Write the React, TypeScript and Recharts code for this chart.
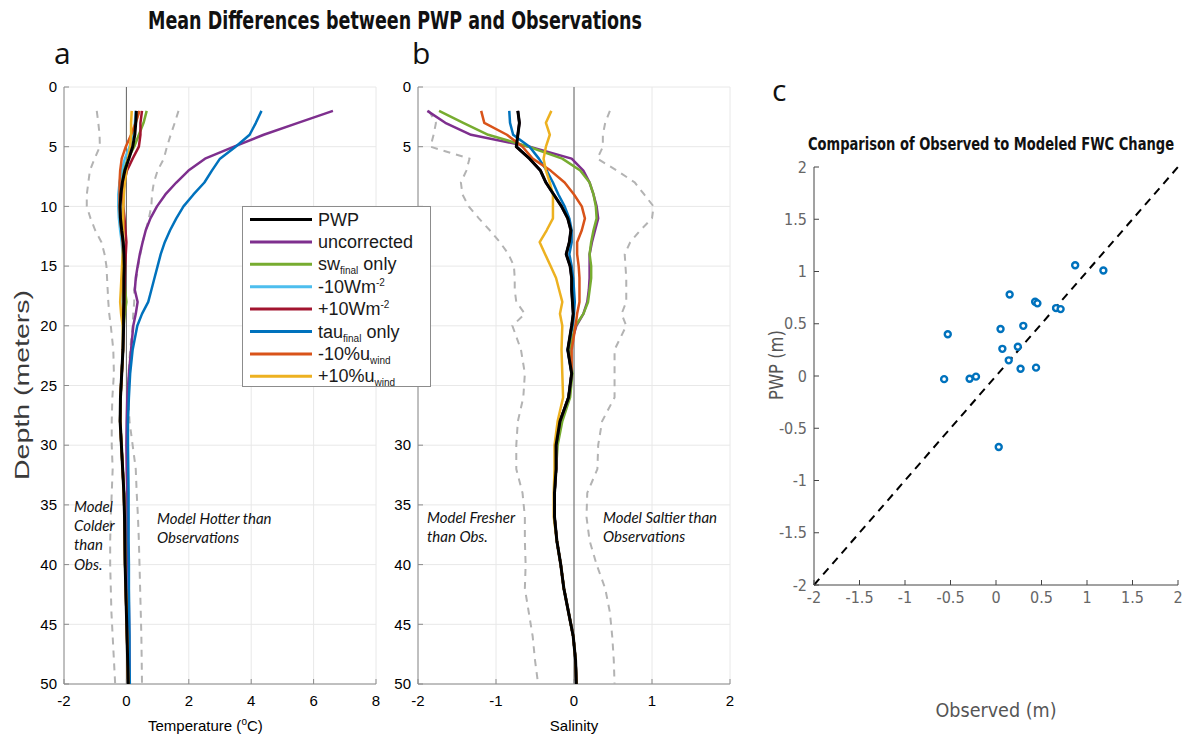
import React from "react";
import {
  ScatterChart,
  Scatter,
  XAxis,
  YAxis,
  CartesianGrid,
  ReferenceLine,
} from "recharts";

// depth levels (m) shared by all profiles in panels a and b
const depths = [
  2, 3, 4, 5, 6, 7, 8, 9, 10, 11, 12, 13, 14, 15, 16, 17, 18, 19, 20, 22, 24,
  26, 28, 30, 32, 34, 36, 38, 40, 42, 44, 46, 48, 50,
];
const depthTicks = [0, 5, 10, 15, 20, 25, 30, 35, 40, 45, 50];

// panel a: temperature difference (degC)
const tempPWP = [
  0.32, 0.3, 0.27, 0.2, 0.08, -0.05, -0.13, -0.18, -0.2, -0.19, -0.15, -0.1,
  -0.08, -0.07, -0.08, -0.08, -0.08, -0.09, -0.09, -0.11, -0.15, -0.19, -0.2,
  -0.16, -0.12, -0.08, -0.06, -0.05, -0.04, -0.02, 0, 0.02, 0.04, 0.06,
];
const tempUncorrected = [
  6.62, 5.5, 4.4, 3.45, 2.52, 1.99, 1.6, 1.25, 0.98, 0.77, 0.62, 0.52, 0.43,
  0.36, 0.3, 0.27, 0.36, 0.3, 0.22, 0.15, 0.08, 0.03, 0.01, 0, 0.01, 0.03,
  0.05, 0.05, 0.06, 0.07, 0.08, 0.09, 0.1, 0.1,
];
const tempTau = [
  4.33, 4.15, 3.95, 3.5, 3.0, 2.74, 2.5, 2.15, 1.83, 1.6, 1.4, 1.23, 1.1, 1.0,
  0.9, 0.8, 0.7, 0.5, 0.35, 0.2, 0.12, 0.08, 0.05, 0.05, 0.06, 0.07, 0.07,
  0.07, 0.08, 0.08, 0.09, 0.1, 0.1, 0.11,
];
const tempSw = [
  0.65, 0.55, 0.4, 0.25, 0.05, -0.1, -0.16, -0.2, -0.24, -0.22, -0.17, -0.12,
  -0.09, -0.07, -0.06, -0.04, 0.0, -0.05, -0.09,
  ...tempPWP.slice(19),
];
const tempCool = [
  0.3, 0.27, 0.2, 0.1, -0.05, -0.15, -0.22, -0.26, -0.26, -0.24, -0.2, -0.15,
  -0.12, -0.12, -0.13, -0.13, -0.12, -0.12, -0.11,
  ...tempPWP.slice(19),
];
const tempWarm = [
  0.5, 0.45, 0.45, 0.4, 0.2, 0.02, -0.07, -0.1, -0.1, -0.06, -0.03, 0, -0.02,
  -0.04, -0.05, -0.06, -0.07, -0.08, -0.09,
  ...tempPWP.slice(19),
];
const tempWindLow = [
  0.42, 0.3, 0.15, -0.02, -0.15, -0.2, -0.22, -0.22, -0.22, -0.2, -0.16, -0.12,
  -0.1, -0.09, -0.09, -0.09, -0.09, -0.1, -0.1,
  ...tempPWP.slice(19),
];
const tempWindHigh = [
  0.17, 0.15, 0.15, 0.12, 0.05, 0, -0.05, -0.08, -0.1, -0.1, -0.1, -0.1, -0.12,
  -0.14, -0.16, -0.18, -0.2, -0.17, -0.12,
  ...tempPWP.slice(19),
];
const tempLow = [
  -0.95, -0.9, -0.86, -0.85, -1.02, -1.17, -1.22, -1.27, -1.27, -1.15, -1.0,
  -0.8, -0.7, -0.64, -0.62, -0.6, -0.58, -0.55, -0.5, -0.42, -0.4, -0.45,
  -0.47, -0.47, -0.44, -0.47, -0.5, -0.52, -0.52, -0.5, -0.48, -0.44, -0.4,
  -0.36,
];
const tempHigh = [
  1.67, 1.55, 1.42, 1.3, 1.2, 1.0, 0.88, 0.82, 0.8, 0.72, 0.62, 0.52, 0.45,
  0.38, 0.32, 0.25, 0.25, 0.22, 0.2, 0.12, 0.07, 0.06, 0.1, 0.2, 0.3, 0.33,
  0.37, 0.4, 0.42, 0.44, 0.46, 0.48, 0.49, 0.5,
];

// panel b: salinity difference
const salPWP = [
  -0.72, -0.7, -0.72, -0.74, -0.57, -0.43, -0.36, -0.26, -0.16, -0.08, -0.04,
  -0.06, -0.1, -0.05, -0.03, -0.03, -0.02, -0.01, -0.03, -0.08, -0.03, -0.07,
  -0.18, -0.23, -0.23, -0.25, -0.25, -0.22, -0.17, -0.13, -0.07, -0.01, 0.02,
  0.03,
];
const salUncorrected = [
  -1.88, -1.65, -1.32, -0.57, -0.03, 0.12, 0.2, 0.25, 0.29, 0.31, 0.27, 0.23,
  0.2, 0.2, 0.2, 0.19, 0.17, 0.12, 0.03, -0.06,
  ...salPWP.slice(20),
];
const salSw = [
  -1.73, -1.42, -1.1, -0.58, -0.15, 0.08, 0.2, 0.25, 0.28, 0.29, 0.25, 0.22,
  0.2, 0.22, 0.22, 0.2, 0.18, 0.12, 0.02, -0.06, -0.02, -0.05, -0.15, -0.21,
  ...salPWP.slice(24),
];
const salCool = [...salPWP];
const salWarm = [...salPWP];
const salTau = [
  -0.83, -0.82, -0.78, -0.57, -0.45, -0.35, -0.27, -0.2, -0.12, -0.06, -0.03,
  -0.03, -0.06, -0.03, -0.01, 0, 0.01, 0, -0.02,
  ...salPWP.slice(19),
];
const salWindLow = [
  -1.19, -1.15, -0.86, -0.66, -0.53, -0.3, -0.12, 0, 0.1, 0.14, 0.1, 0.04, 0.04,
  0.06, 0.07, 0.07, 0.07, 0.04, 0.02, -0.03,
  ...salPWP.slice(20),
];
const salWindHigh = [
  -0.29, -0.36, -0.31, -0.36, -0.39, -0.36, -0.31, -0.27, -0.27, -0.27, -0.35,
  -0.44, -0.37, -0.3, -0.23, -0.19, -0.15, -0.18, -0.15, -0.16, -0.15, -0.14,
  -0.21, -0.25, -0.25, -0.26, -0.26,
  ...salPWP.slice(27),
];
const salLow = [
  -1.86, -1.77, -1.8, -1.84, -1.34, -1.38, -1.45, -1.43, -1.35, -1.22, -1.08,
  -0.95, -0.84, -0.77, -0.76, -0.76, -0.74, -0.63, -0.79, -0.68, -0.63, -0.65,
  -0.72, -0.74, -0.74, -0.66, -0.63, -0.63, -0.62, -0.63, -0.58, -0.53, -0.5,
  -0.46,
];
const salHigh = [
  0.46, 0.4, 0.37, 0.37, 0.3, 0.55, 0.78, 0.9, 1.02, 1.0, 0.85, 0.72, 0.65,
  0.66, 0.67, 0.67, 0.67, 0.61, 0.67, 0.52, 0.52, 0.52, 0.36, 0.31, 0.3, 0.17,
  0.16, 0.2, 0.29, 0.4, 0.46, 0.49, 0.51, 0.52,
];

// series order: PWP, uncorrected, sw, -10W, +10W, tau, -10%u, +10%u
const seriesNames = ["PWP", "uncorrected", "sw", "-10Wm", "+10Wm", "tau", "-10%u", "+10%u"];
const seriesScripts = ["", "", "final", "-2", "-2", "final", "wind", "wind"];
const seriesScriptKinds = ["", "", "sub", "sup", "sup", "sub", "sub", "sub"];
const seriesTails = ["", "", " only", "", "", " only", "", ""];
const seriesColors = ["#000000", "#7E2F8E", "#77AC30", "#4DBEEE", "#A2142F", "#0072BD", "#D95319", "#EDB120"];
const tempSeries = [tempPWP, tempUncorrected, tempSw, tempCool, tempWarm, tempTau, tempWindLow, tempWindHigh];
const salSeries = [salPWP, salUncorrected, salSw, salCool, salWarm, salTau, salWindLow, salWindHigh];

// panel c: freshwater content change (m)
const observedFwc = [0.87, 0.15, 0.43, 0.455, 0.66, 0.71, -0.53, 0.05, 0.3, 0.07, 0.24, 0.14, 0.27, 0.44, -0.57, -0.29, -0.22, 0.03, 1.18];
const pwpFwc = [1.06, 0.78, 0.71, 0.695, 0.65, 0.64, 0.4, 0.45, 0.48, 0.26, 0.28, 0.15, 0.07, 0.08, -0.03, -0.026, -0.006, -0.68, 1.01];
const fwcTicks = [-2, -1.5, -1, -0.5, 0, 0.5, 1, 1.5, 2];

const FONT = "'Liberation Sans', Arial, Helvetica, sans-serif";
const NARROW = "'Liberation Sans Narrow', 'Arial Narrow', 'DejaVu Sans Condensed', sans-serif";
const ITALIC = "Lato, 'Open Sans', sans-serif";

const profile = (values: number[]) => depths.map((d, i) => ({ x: values[i], y: d }));
const noDot = () => <g />;

// depth tick label; labels listed in `hidden` sit under the legend box
function DepthTick(hidden: number[]) {
  return (props: any) => {
    const { x, y, payload } = props;
    if (hidden.includes(payload.value)) return <g />;
    return (
      <text x={x} y={y} dy="0.35em" textAnchor="end" fill="#000" fontSize={15} fontFamily={FONT}>
        {payload.value}
      </text>
    );
  };
}

function ProfilePanel({ left, xDomain, xTicks, series, low, high, hiddenTicks }: {
  left: number;
  xDomain: [number, number];
  xTicks: number[];
  series: number[][];
  low: number[];
  high: number[];
  hiddenTicks: number[];
}) {
  const order = [1, 2, 3, 4, 5, 6, 7, 0];
  return (
    <div style={{ position: "absolute", left, top: 0 }}>
      <ScatterChart width={389} height={740} margin={{ top: 87, right: 13, bottom: 0, left: 0 }}>
        <CartesianGrid xAxisId="b" yAxisId="l" stroke="#e8e8e8" />
        <XAxis xAxisId="b" type="number" dataKey="x" domain={xDomain} ticks={xTicks} height={56}
          stroke="#8c8c8c" tickSize={-5} tickMargin={16} allowDataOverflow
          tick={{ fill: "#000", fontSize: 15, fontFamily: FONT }} />
        <XAxis xAxisId="t" orientation="top" type="number" dataKey="x" domain={xDomain} ticks={xTicks}
          height={0} stroke="#8c8c8c" tickSize={-5} tick={false} allowDataOverflow />
        <YAxis yAxisId="l" type="number" dataKey="y" domain={[0, 50]} ticks={depthTicks} reversed width={64}
          stroke="#8c8c8c" tickSize={-5} tickMargin={12} allowDataOverflow
          tick={DepthTick(hiddenTicks)} />
        <YAxis yAxisId="r" orientation="right" type="number" dataKey="y" domain={[0, 50]} ticks={depthTicks}
          reversed width={0} stroke="#8c8c8c" tickSize={-5} tick={false} allowDataOverflow />
        <ReferenceLine xAxisId="b" yAxisId="l" x={0} stroke="#555" strokeWidth={0.9} />
        {[low, high].map((vals, i) => (
          <Scatter key={"d" + i} xAxisId="b" yAxisId="l" data={profile(vals)} fill="#b3b3b3"
            line={{ stroke: "#b3b3b3", strokeWidth: 2, strokeDasharray: "7 6" }}
            shape={noDot} isAnimationActive={false} />
        ))}
        {order.map((k) => (
          <Scatter key={seriesNames[k]} xAxisId="b" yAxisId="l" data={profile(series[k])} fill={seriesColors[k]}
            line={{ stroke: seriesColors[k], strokeWidth: k === 0 ? 3 : 2.5, strokeLinejoin: "round" }}
            shape={noDot} isAnimationActive={false} />
        ))}
      </ScatterChart>
    </div>
  );
}

function Ring(props: any) {
  const { cx, cy } = props;
  return <circle cx={cx} cy={cy} r={3} fill="#fff" stroke="#0072BD" strokeWidth={2.4} />;
}

function FwcPanel() {
  const points = observedFwc.map((x, i) => ({ x, y: pwpFwc[i] }));
  return (
    <div style={{ position: "absolute", left: 754, top: 0 }}>
      <ScatterChart width={430} height={740} margin={{ top: 167, right: 6, bottom: 0, left: 0 }}>
        <XAxis xAxisId="b" type="number" dataKey="x" domain={[-2, 2]} ticks={fwcTicks} height={155}
          stroke="#444" tickSize={-5} tickMargin={12} allowDataOverflow
          tick={{ fill: "#666", fontSize: 16, fontFamily: NARROW }} />
        <XAxis xAxisId="t" orientation="top" type="number" dataKey="x" domain={[-2, 2]} ticks={fwcTicks}
          height={0} stroke="#444" tickSize={-5} tick={false} allowDataOverflow />
        <YAxis yAxisId="l" type="number" dataKey="y" domain={[-2, 2]} ticks={fwcTicks} width={60}
          stroke="#444" tickSize={-5} tickMargin={12} allowDataOverflow
          tick={{ fill: "#666", fontSize: 16, fontFamily: NARROW }} />
        <YAxis yAxisId="r" orientation="right" type="number" dataKey="y" domain={[-2, 2]} ticks={fwcTicks}
          width={0} stroke="#444" tickSize={-5} tick={false} allowDataOverflow />
        <ReferenceLine xAxisId="b" yAxisId="l" segment={[{ x: -2, y: -2 }, { x: 2, y: 2 }]}
          stroke="#000" strokeWidth={2} strokeDasharray="8 6" />
        <Scatter xAxisId="b" yAxisId="l" data={points} fill="#0072BD" shape={Ring} isAnimationActive={false} />
      </ScatterChart>
    </div>
  );
}

function LegendBox() {
  const x0 = 242;
  const y0 = 206;
  return (
    <g fontFamily={FONT} fontSize={18} fill="#1a1a1a">
      <rect x={x0 + 0.5} y={y0 + 0.5} width={188} height={180} fill="#fff" stroke="#8c8c8c" strokeWidth={1} />
      {seriesNames.map((name, i) => {
        const cy = y0 + 13.5 + i * 22.4;
        const kind = seriesScriptKinds[i];
        return (
          <g key={name}>
            <line x1={x0 + 8} x2={x0 + 70} y1={cy} y2={cy} stroke={seriesColors[i]} strokeWidth={3} />
            <text x={x0 + 76} y={cy + 6}>
              {name}
              {kind === "sub" && (
                <tspan fontSize={10} dy={4}>{seriesScripts[i]}</tspan>
              )}
              {kind === "sup" && (
                <tspan fontSize={10} dy={-7}>{seriesScripts[i]}</tspan>
              )}
              {kind !== "" && seriesTails[i] !== "" && (
                <tspan dy={kind === "sub" ? -4 : 7}>{seriesTails[i]}</tspan>
              )}
            </text>
          </g>
        );
      })}
    </g>
  );
}

function Labels() {
  const it = { fontFamily: ITALIC, fontStyle: "italic", fontSize: 15, fill: "#111" } as const;
  return (
    <svg width={1184} height={740} style={{ position: "absolute", left: 0, top: 0, pointerEvents: "none" }}>
      <LegendBox />
      <text x={148} y={29} fontFamily={NARROW} fontWeight="bold" fontSize={25} textLength={494}
        lengthAdjust="spacingAndGlyphs" fill="#111">Mean Differences between PWP and Observations</text>
      <text x={54} y={64} fontFamily="'Open Sans', sans-serif" fontSize={30} fill="#111">a</text>
      <text x={412} y={64} fontFamily="'Open Sans', sans-serif" fontSize={30} fill="#111">b</text>
      <text x={772} y={101} fontFamily="'Open Sans', sans-serif" fontSize={30} fill="#111">c</text>
      <text x={808} y={150} fontFamily={NARROW} fontWeight="bold" fontSize={18} textLength={366}
        lengthAdjust="spacingAndGlyphs" fill="#111">Comparison of Observed to Modeled FWC Change</text>

      <text transform="translate(29 385) rotate(-90)" textAnchor="middle" fontFamily={FONT} fontSize={20}
        textLength={190} lengthAdjust="spacingAndGlyphs" fill="#3a3a3a">Depth (meters)</text>
      <text x={148} y={731} fontFamily={FONT} fontSize={15} fill="#000">
        Temperature (<tspan fontSize={10} dy={-6}>o</tspan><tspan dy={6}>C)</tspan>
      </text>
      <text x={574} y={731} textAnchor="middle" fontFamily={FONT} fontSize={15} fill="#000">Salinity</text>
      <text x={996} y={717} textAnchor="middle" fontFamily={NARROW} fontSize={19} textLength={121}
        lengthAdjust="spacingAndGlyphs" fill="#555">Observed (m)</text>
      <text transform="translate(783 365) rotate(-90)" textAnchor="middle" fontFamily={NARROW} fontSize={19}
        textLength={70} lengthAdjust="spacingAndGlyphs" fill="#555">PWP (m)</text>

      <text x={74} y={512} {...it}>Model</text>
      <text x={74} y={531} {...it}>Colder</text>
      <text x={74} y={550} {...it}>than</text>
      <text x={74} y={570} {...it}>Obs.</text>
      <text x={157} y={524} {...it}>Model Hotter than</text>
      <text x={157} y={543} {...it}>Observations</text>
      <text x={427} y={523} {...it}>Model Fresher</text>
      <text x={427} y={542} {...it}>than Obs.</text>
      <text x={603} y={523} {...it}>Model Saltier than</text>
      <text x={603} y={542} {...it}>Observations</text>
    </svg>
  );
}

export default function App() {
  return (
    <div style={{ position: "absolute", left: 0, top: 0, width: 1184, height: 740, background: "#fff", overflow: "hidden" }}>
      <ProfilePanel left={0} xDomain={[-2, 8]} xTicks={[-2, 0, 2, 4, 6, 8]} series={tempSeries}
        low={tempLow} high={tempHigh} hiddenTicks={[]} />
      <ProfilePanel left={354} xDomain={[-2, 2]} xTicks={[-2, -1, 0, 1, 2]} series={salSeries}
        low={salLow} high={salHigh} hiddenTicks={[10, 15, 20, 25]} />
      <FwcPanel />
      <Labels />
    </div>
  );
}
